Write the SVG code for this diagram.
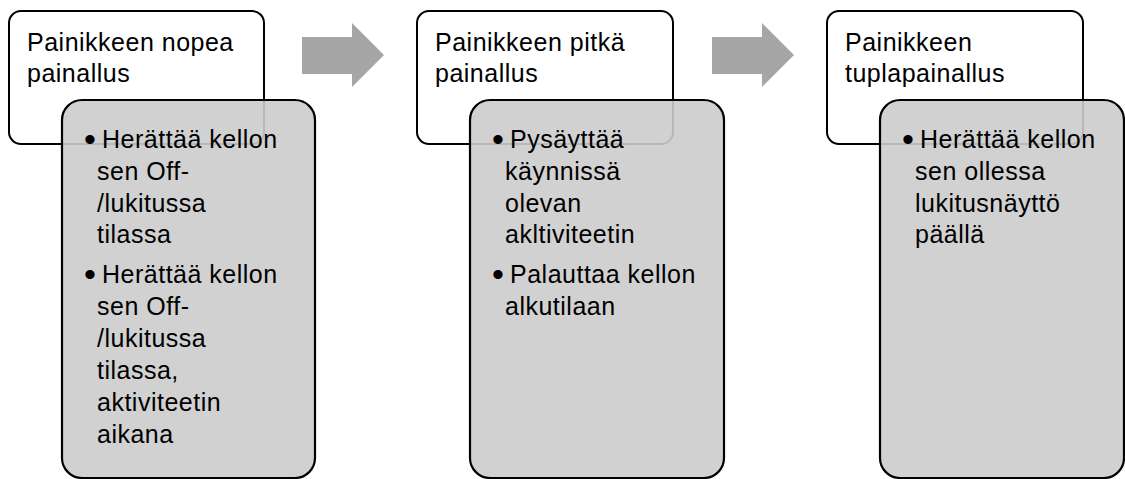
<svg xmlns="http://www.w3.org/2000/svg" width="1125" height="479" viewBox="0 0 1125 479">
<style>
.head{fill:#ffffff;stroke:#000000;stroke-width:2}
.body{fill:#cccccc;fill-opacity:0.9;stroke:#000000;stroke-width:2.2}
.arrow{fill:#a6a6a6}
text{font-family:"Liberation Sans",Arial,sans-serif;font-size:25px;letter-spacing:0.5px;fill:#000000}
text.b{font-size:34px;letter-spacing:0}
</style>
<rect width="1125" height="479" fill="#ffffff"/>
<g id="connectors">
<polygon class="arrow" points="302,37 352,37 352,23 384,55 352,87 352,74 302,74"/>
<polygon class="arrow" points="712,37 762,37 762,23 794,55 762,87 762,74 712,74"/>
</g>
<g id="node1">
<rect class="head" x="9" y="11" width="255" height="133" rx="12"/>
<text x="27" y="51">Painikkeen nopea</text>
<text x="27" y="82">painallus</text>
</g>
<g id="node1-details">
<rect class="body" x="62" y="100" width="253" height="378" rx="20"/>
<text class="b" x="84" y="151">•</text><text x="102" y="148">Herättää kellon</text>
<text x="97" y="180">sen Off-</text>
<text x="97" y="212">/lukitussa</text>
<text x="97" y="243">tilassa</text>
<text class="b" x="84" y="286">•</text><text x="102" y="283">Herättää kellon</text>
<text x="97" y="315">sen Off-</text>
<text x="97" y="347">/lukitussa</text>
<text x="97" y="379">tilassa,</text>
<text x="97" y="411">aktiviteetin</text>
<text x="97" y="443">aikana</text>
</g>
<g id="node2">
<rect class="head" x="417" y="11" width="256" height="133" rx="12"/>
<text x="435" y="51">Painikkeen pitkä</text>
<text x="435" y="82">painallus</text>
</g>
<g id="node2-details">
<rect class="body" x="470" y="100" width="254" height="378" rx="20"/>
<text class="b" x="492" y="151">•</text><text x="510" y="148">Pysäyttää</text>
<text x="505" y="180">käynnissä</text>
<text x="505" y="212">olevan</text>
<text x="505" y="243">akltiviteetin</text>
<text class="b" x="492" y="286">•</text><text x="510" y="283">Palauttaa kellon</text>
<text x="505" y="315">alkutilaan</text>
</g>
<g id="node3">
<rect class="head" x="827" y="11" width="256" height="133" rx="12"/>
<text x="845" y="51">Painikkeen</text>
<text x="845" y="82">tuplapainallus</text>
</g>
<g id="node3-details">
<rect class="body" x="880" y="100" width="244" height="378" rx="20"/>
<text class="b" x="902" y="151">•</text><text x="920" y="148">Herättää kellon</text>
<text x="915" y="180">sen ollessa</text>
<text x="915" y="212">lukitusnäyttö</text>
<text x="915" y="243">päällä</text>
</g>
</svg>
